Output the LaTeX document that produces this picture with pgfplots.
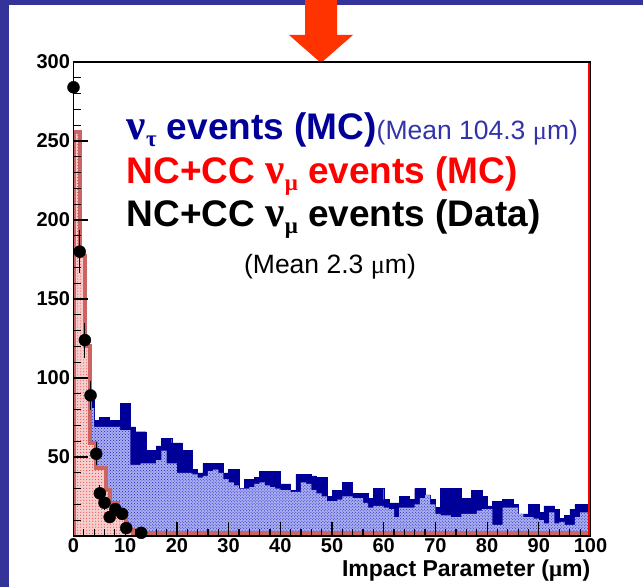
\documentclass[border=0pt]{standalone}
\usepackage{fontspec}
\setmainfont{Liberation Sans}
\newfontfamily\grk{Liberation Serif}
\usepackage{pgfplots}
\usepackage{pgfplotstable}
\pgfplotsset{compat=1.18}
\usetikzlibrary{patterns}
\definecolor{slideblue}{RGB}{51,51,153}
\definecolor{arrowred}{RGB}{255,51,0}
\definecolor{navy}{RGB}{0,0,153}
\definecolor{meanblue}{RGB}{51,51,170}
\definecolor{dotblue}{RGB}{30,30,200}
\definecolor{dotfill}{RGB}{170,175,238}
\definecolor{pinkfill}{RGB}{246,205,205}
\definecolor{salmon}{RGB}{205,100,100}
\newcommand\fs[1]{\fontsize{#1bp}{#1bp}\selectfont}
\newcommand\nuG{{\fs{43}\grk\bfseries ν}}

\pgfplotstableread{
x y
0 78
1 78
2 80
3 86
4 73
5 75
6 75
7 73
8 73
9 84
10 84
11 69
12 66
13 66
14 54
15 54
16 57
17 62
18 62
19 59
20 59
21 54
22 54
23 42
24 40
25 46
26 46
27 46
28 46
29 40
30 42
31 42
32 30
33 36
34 36
35 37
36 41
37 41
38 41
39 41
40 33
41 33
42 29
43 39
44 39
45 39
46 38
47 37
48 37
49 25
50 29
51 29
52 34
53 34
54 27
55 27
56 27
57 24
58 30
59 30
60 23
61 21
62 21
63 25
64 25
65 23
66 30
67 30
68 26
69 23
70 18
71 30
72 30
73 30
74 30
75 24
76 24
77 29
78 29
79 25
80 19
81 22
82 22
83 23
84 23
85 20
86 14
87 14
88 20
89 20
90 15
91 19
92 19
93 17
94 11
95 13
96 17
97 20
98 20
99 20
100 20
}\navytab

\pgfplotstableread{
x y
0 78
1 78
2 80
3 81
4 69
5 69
6 69
7 69
8 69
9 67
10 67
11 45
12 45
13 46
14 46
15 46
16 48
17 54
18 46
19 46
20 40
21 40
22 40
23 39
24 37
25 38
26 41
27 42
28 40
29 36
30 34
31 32
32 30
33 30
34 31
35 33
36 34
37 32
38 31
39 30
40 29
41 29
42 28
43 28
44 34
45 33
46 29
47 27
48 25
49 22
50 22
51 23
52 25
53 25
54 24
55 24
56 21
57 18
58 19
59 19
60 18
61 17
62 12
63 18
64 18
65 18
66 20
67 24
68 26
69 20
70 14
71 13
72 13
73 12
74 12
75 14
76 14
77 14
78 16
79 17
80 17
81 7
82 7
83 18
84 18
85 18
86 14
87 12
88 12
89 11
90 10
91 8
92 15
93 8
94 9
95 7
96 7
97 12
98 15
99 15
100 15
}\dottab

\pgfplotstableread{
x y
0 256
1.2 177
2.2 120
3.1 59
4.4 43
6.2 29
7.1 21
8.7 15
10.2 4
11.5 2
100 2
}\redtab

\pgfplotstableread{
x y
0 0
0 256
1.2 177
2.2 120
3.1 59
4.4 43
6.2 29
7.1 21
8.7 15
10.2 4
11.5 2
100 2
}\redline

\pgfplotstableread{
x y e
0 284 16.9
1.2 180 13.4
2.2 124 11.1
3.3 89 9.4
4.4 52 7.2
5.1 27 5.2
6.0 21 4.6
7.0 12 3.4
8.1 17 4.1
9.4 14 3.7
10.2 5 2.2
13.1 2 1.4
}\datatab

\begin{document}
\begin{tikzpicture}
\useasboundingbox (0,0) rectangle (643bp,587bp);
\fill[white] (0,0) rectangle (643bp,587bp);
\fill[slideblue] (0,0) rectangle (9bp,587bp);
\fill[slideblue] (0,582bp) rectangle (643bp,587bp);
\fill[arrowred] (305bp,587bp) -- (305bp,552bp) -- (289bp,552bp) -- (321bp,524bp) -- (353bp,552bp) -- (337bp,552bp) -- (337bp,587bp) -- cycle;

\begin{axis}[
  at={(73.5bp,51bp)}, anchor=south west,
  scale only axis, width=517bp, height=474bp,
  xmin=0, xmax=100, ymin=0, ymax=300,
  axis on top,
  tick align=inside,
  xtick={0,10,...,100}, minor xtick={2,4,...,98},
  ytick={50,100,...,300}, minor ytick={10,20,...,290},
  xtick pos=bottom, ytick pos=left,
  major tick length=14bp, minor tick length=7bp,
  tick style={black, line width=1.2bp},
  axis line style={line width=1.6bp},
  /pgf/number format/assume math mode=true,
  ticklabel style={font=\fs{20}\bfseries},
  xticklabel style={inner sep=2bp},
  xlabel={Impact Parameter ({\grk\bfseries μ}m)},
  xlabel style={at={(axis description cs:1,0)}, anchor=base east, yshift=-40bp, inner sep=0pt, font=\fs{23}\bfseries},
]
\addplot[const plot, draw=navy, fill=navy, line width=0.4bp] table[x=x,y=y] {\navytab} \closedcycle;
\addplot[const plot, draw=none, fill=dotfill] table[x=x,y=y] {\dottab} \closedcycle;
\addplot[const plot, draw=none, pattern=crosshatch dots, pattern color=dotblue] table[x=x,y=y] {\dottab} \closedcycle;
\addplot[const plot, draw=none, fill=pinkfill] table[x=x,y=y] {\redtab} \closedcycle;
\addplot[const plot, draw=none, pattern=dots, pattern color=red!80!white] table[x=x,y=y] {\redtab} \closedcycle;
\addplot[const plot, draw=salmon, line width=4bp, line join=miter] table[x=x,y=y] {\redline};
\addplot[red, line width=1.5bp] coordinates {(99.75,0) (99.75,300)};
\addplot[only marks, mark=*, mark size=6bp, black,
  error bars/.cd, y dir=both, y explicit, error bar style={line width=1.2bp, black}, error mark=none]
  table[x=x, y=y, y error=e] {\datatab};
\end{axis}

\node[anchor=base west, inner sep=0pt, text=navy] at (126.7bp,447bp)
  {\fs{37}\bfseries\nuG\raisebox{-7bp}{\fs{23}\grk\bfseries τ} events (MC)\fs{26.5}\mdseries\color{meanblue}(Mean 104.3 {\grk μ}m)};
\node[anchor=base west, inner sep=0pt, text=red] at (126.7bp,403bp)
  {\fs{37}\bfseries NC+CC \nuG\raisebox{-7bp}{\fs{23}\grk\bfseries μ} events (MC)};
\node[anchor=base west, inner sep=0pt, text=black] at (126.7bp,360bp)
  {\fs{37}\bfseries NC+CC \nuG\raisebox{-7bp}{\fs{23}\grk\bfseries μ} events (Data)};
\node[anchor=base, inner sep=0pt, text=black] at (330bp,313bp)
  {\fs{26.5}(Mean 2.3 {\grk μ}m)};
\end{tikzpicture}
\end{document}
